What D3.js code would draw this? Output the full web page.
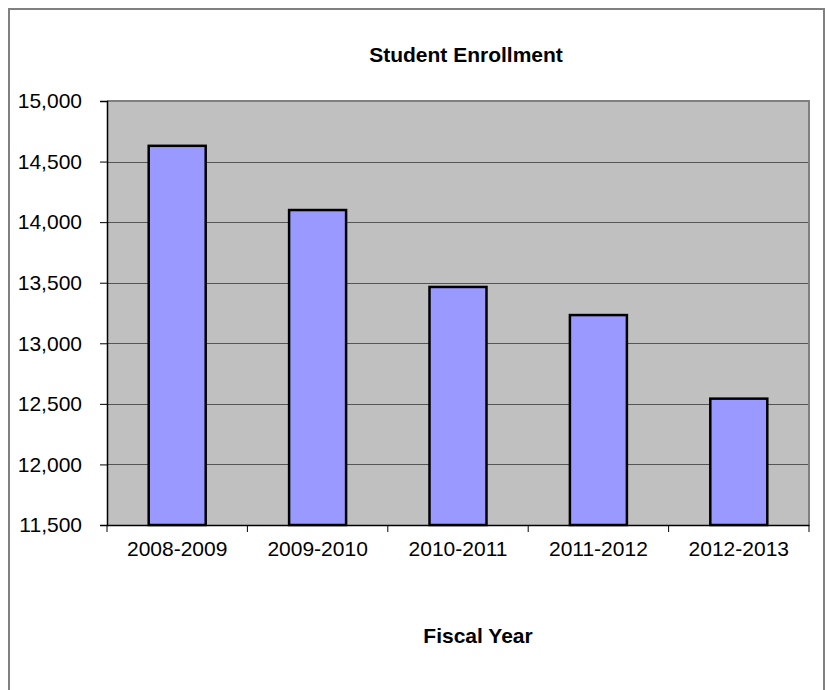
<!DOCTYPE html>
<html>
<head>
<meta charset="utf-8">
<script src="https://cdn.jsdelivr.net/npm/d3@7"></script>
<style>
  html, body { margin: 0; padding: 0; background: #fff; }
  svg { display: block; font-family: "Liberation Sans", Arial, sans-serif; }
</style>
</head>
<body>
<script>
const categories = ["2008-2009", "2009-2010", "2010-2011", "2011-2012", "2012-2013"];
const enrollment = [14630, 14100, 13465, 13233, 12543];
const yTicks = [11500, 12000, 12500, 13000, 13500, 14000, 14500, 15000];
const title = "Student Enrollment";
const xTitle = "Fiscal Year";

const W = 830, H = 690;
const plot = { left: 107, right: 809, top: 101, bottom: 525 };

const svg = d3.select("body").append("svg").attr("width", W).attr("height", H);

// outer border
svg.append("rect").attr("x", 9).attr("y", 9).attr("width", 815).attr("height", 700)
  .attr("fill", "#fff").attr("stroke", "#808080").attr("stroke-width", 2);

const x = d3.scaleBand().domain(categories).range([plot.left, plot.right])
  .paddingInner(0.594).paddingOuter(0.297);
const y = d3.scaleLinear().domain([11500, 15000]).range([plot.bottom, plot.top]);

// plot background
svg.append("rect").attr("x", plot.left).attr("y", plot.top)
  .attr("width", plot.right - plot.left).attr("height", plot.bottom - plot.top)
  .attr("fill", "#c0c0c0");

// gridlines
svg.append("g").selectAll("line").data(yTicks.slice(1, -1)).join("line")
  .attr("x1", plot.left).attr("x2", plot.right)
  .attr("y1", d => Math.round(y(d)) + 0.5).attr("y2", d => Math.round(y(d)) + 0.5)
  .attr("stroke", "#555").attr("stroke-width", 1.2);

// plot border top/right
svg.append("path")
  .attr("d", `M${plot.left},${plot.top} H${plot.right} V${plot.bottom}`)
  .attr("fill", "none").attr("stroke", "#808080").attr("stroke-width", 2);

// bars
svg.append("g").selectAll("rect").data(categories).join("rect")
  .attr("x", d => x(d))
  .attr("y", (d, i) => y(enrollment[i]))
  .attr("width", x.bandwidth())
  .attr("height", (d, i) => plot.bottom - y(enrollment[i]))
  .attr("fill", "#9999ff").attr("stroke", "#000").attr("stroke-width", 2.5);

// y axis
const yAxis = d3.axisLeft(y).tickValues(yTicks).tickSize(7).tickPadding(18)
  .tickFormat(d3.format(","));
const gy = svg.append("g").attr("transform", `translate(${plot.left},0)`).call(yAxis);
gy.select(".domain").attr("stroke", "#000").attr("stroke-width", 1.5);
gy.selectAll(".tick line").attr("stroke", "#000");
gy.selectAll(".tick text").attr("font-size", 21).attr("fill", "#000")
  .attr("font-family", "Liberation Sans, Arial, sans-serif");

// x axis
const xAxis = d3.axisBottom(x).tickSize(0).tickPadding(16);
const gx = svg.append("g").attr("transform", `translate(0,${plot.bottom})`).call(xAxis);
gx.select(".domain").attr("stroke", "#000").attr("stroke-width", 1.5);
gx.selectAll(".tick text").attr("font-size", 21).attr("fill", "#000")
  .attr("font-family", "Liberation Sans, Arial, sans-serif");
// category boundary ticks
const bounds = d3.range(categories.length + 1).map(i => plot.left + i * x.step());
svg.append("g").selectAll("line").data(bounds).join("line")
  .attr("x1", d => d).attr("x2", d => d)
  .attr("y1", plot.bottom).attr("y2", plot.bottom + 7)
  .attr("stroke", "#000").attr("stroke-width", 1);

// titles
svg.append("text").attr("x", 466).attr("y", 62).attr("text-anchor", "middle")
  .attr("font-size", 21).attr("font-weight", "bold").text(title);
svg.append("text").attr("x", 478).attr("y", 643).attr("text-anchor", "middle")
  .attr("font-size", 21).attr("font-weight", "bold").text(xTitle);
</script>
</body>
</html>
